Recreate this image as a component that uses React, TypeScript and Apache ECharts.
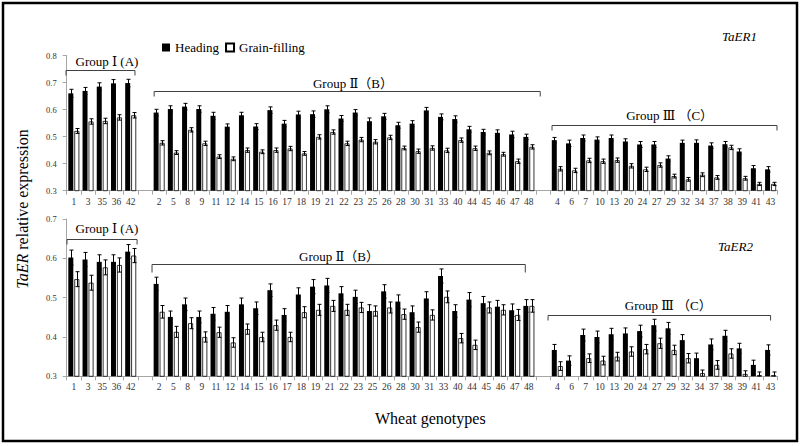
import React, { useEffect, useRef } from 'react';
import * as echarts from 'echarts';

// ---- categories (wheat genotypes) ----
const groupA = ['1', '3', '35', '36', '42'];
const groupB = ['2', '5', '8', '9', '11', '12', '14', '15', '16', '17', '18', '19', '21', '22', '23', '25', '26', '28', '30', '31', '33', '40', '44', '45', '46', '47', '48'];
const groupC = ['4', '6', '7', '10', '13', '20', '24', '27', '29', '32', '34', '37', '38', '39', '41', '43'];

const seriesNames = ['Heading', 'Grain-filling'];
const groupLabels = ['Group Ⅰ (A)', 'Group Ⅱ（B）', 'Group Ⅲ （C）'];
const panelTitles = ['TaER1', 'TaER2'];
const xAxisTitle = 'Wheat genotypes';
const yAxisTitleItalic = 'TaER';
const yAxisTitleRest = ' relative expression';
const yRange1 = [0.3, 0.8];
const yRange2 = [0.3, 0.7];

// ---- TaER1 ----
const er1Heading = [
  0.66, 0.669, 0.685, 0.697, 0.698,
  0.589, 0.602, 0.611, 0.602, 0.577, 0.537, 0.579, 0.537, 0.598, 0.548, 0.582, 0.583, 0.601, 0.567, 0.589, 0.557, 0.575, 0.542, 0.548, 0.597, 0.573, 0.565, 0.527, 0.517, 0.514, 0.508, 0.499,
  0.487, 0.475, 0.495, 0.489, 0.495, 0.482, 0.471, 0.471, 0.419, 0.477, 0.477, 0.467, 0.472, 0.445, 0.383, 0.379,
];
const er1HeadingErr = [
  0.015, 0.013, 0.014, 0.014, 0.014,
  0.012, 0.012, 0.012, 0.012, 0.013, 0.01, 0.011, 0.011, 0.012, 0.012, 0.012, 0.012, 0.013, 0.011, 0.011, 0.012, 0.011, 0.011, 0.011, 0.011, 0.011, 0.012, 0.011, 0.01, 0.011, 0.012, 0.01,
  0.01, 0.012, 0.011, 0.01, 0.011, 0.01, 0.011, 0.011, 0.01, 0.01, 0.011, 0.01, 0.01, 0.01, 0.01, 0.01,
];
const er1Grain = [
  0.521, 0.556, 0.558, 0.571, 0.579,
  0.477, 0.441, 0.525, 0.475, 0.426, 0.418, 0.45, 0.444, 0.45, 0.456, 0.438, 0.499, 0.517, 0.475, 0.489, 0.481, 0.497, 0.458, 0.446, 0.458, 0.449, 0.487, 0.457, 0.44, 0.435, 0.409, 0.462,
  0.381, 0.375, 0.412, 0.409, 0.413, 0.392, 0.379, 0.395, 0.354, 0.342, 0.359, 0.349, 0.46, 0.346, 0.325, 0.325,
];
const er1GrainErr = [
  0.009, 0.01, 0.01, 0.01, 0.01,
  0.008, 0.007, 0.008, 0.008, 0.007, 0.007, 0.008, 0.007, 0.008, 0.008, 0.007, 0.008, 0.008, 0.008, 0.008, 0.008, 0.008, 0.007, 0.008, 0.008, 0.008, 0.008, 0.008, 0.007, 0.007, 0.008, 0.008,
  0.008, 0.008, 0.008, 0.008, 0.008, 0.008, 0.008, 0.008, 0.007, 0.007, 0.007, 0.007, 0.008, 0.007, 0.006, 0.006,
];

// ---- TaER2 ----
const er2Heading = [
  0.602, 0.597, 0.591, 0.591, 0.617,
  0.535, 0.451, 0.483, 0.451, 0.459, 0.464, 0.483, 0.473, 0.519, 0.456, 0.508, 0.528, 0.531, 0.511, 0.502, 0.466, 0.516, 0.49, 0.463, 0.498, 0.555, 0.466, 0.495, 0.486, 0.477, 0.468, 0.479,
  0.367, 0.34, 0.405, 0.4, 0.407, 0.409, 0.415, 0.43, 0.422, 0.392, 0.346, 0.381, 0.403, 0.371, 0.329, 0.367,
];
const er2HeadingErr = [
  0.019, 0.018, 0.018, 0.018, 0.018,
  0.017, 0.015, 0.016, 0.015, 0.016, 0.016, 0.016, 0.016, 0.016, 0.016, 0.017, 0.018, 0.018, 0.017, 0.017, 0.016, 0.017, 0.017, 0.016, 0.017, 0.018, 0.016, 0.018, 0.017, 0.016, 0.016, 0.016,
  0.014, 0.012, 0.015, 0.015, 0.015, 0.014, 0.015, 0.015, 0.015, 0.014, 0.013, 0.014, 0.014, 0.013, 0.012, 0.013,
];
const er2Grain = [
  0.547, 0.538, 0.577, 0.583, 0.607,
  0.464, 0.413, 0.435, 0.4, 0.412, 0.386, 0.42, 0.4, 0.43, 0.4, 0.463, 0.469, 0.479, 0.469, 0.475, 0.466, 0.475, 0.458, 0.425, 0.456, 0.502, 0.397, 0.38, 0.475, 0.469, 0.456, 0.479,
  0.326, 0.3, 0.346, 0.34, 0.35, 0.363, 0.369, 0.384, 0.367, 0.346, 0.308, 0.329, 0.358, 0.306, 0.303, 0.303,
];
const er2GrainErr = [
  0.019, 0.019, 0.019, 0.018, 0.018,
  0.016, 0.014, 0.014, 0.013, 0.013, 0.012, 0.013, 0.012, 0.013, 0.012, 0.014, 0.014, 0.014, 0.014, 0.013, 0.013, 0.014, 0.013, 0.013, 0.013, 0.015, 0.012, 0.012, 0.014, 0.013, 0.014, 0.016,
  0.011, 0, 0.011, 0.011, 0.011, 0.012, 0.012, 0.013, 0.012, 0.012, 0.008, 0.011, 0.012, 0.008, 0.008, 0.008,
];

// ---- layout helpers (not data) ----
const FONT = "'Liberation Serif', 'Times New Roman', serif";
const GROUP_FONT = "'Liberation Serif', 'DejaVu Serif', 'Noto Sans CJK SC', serif";
const categories = [...groupA, ' ', ...groupB, '  ', ...groupC];
const pos = (k: number) => (k < groupA.length ? k : k < groupA.length + groupB.length ? k + 1 : k + 2);
const toAxis = (vals: number[]) => {
  const out: (number | null)[] = categories.map(() => null);
  vals.forEach((v, k) => { out[pos(k)] = v; });
  return out;
};
const errData = (vals: number[], errs: number[]) => vals.map((v, k) => [pos(k), v, errs[k]]);

// bracket annotations: [startIdx, yValue, startFrac, endIdx, endFrac, textIdx, textFrac, textDy, tick]
const brackets1 = [
  [0, 0.748, -0.55, 4, 0.3, 2, 0.33, -9, 5],
  [6, 0.667, -0.35, 32, 0.8, 19, 0.63, -8, 5],
  [34, 0.544, -0.37, 49, 0.45, 42, -0.1, -10, 5],
];
const brackets2 = [
  [0, 0.648, -0.48, 4, 0.45, 2, 0.33, -11, 5],
  [6, 0.5855, -0.5, 32, -0.25, 19, -0.35, -8, 8],
  [34, 0.456, -0.65, 49, 0, 42, -0.2, -10, 5],
];

const BAR_W = 5;
const OFFSET = 3;

const errorRender = (offset: number) => (params: any, api: any) => {
  const idx = api.value(0);
  const v = api.value(1);
  const e = api.value(2);
  if (!e) return null;
  const top = api.coord([idx, v + e]);
  const bot = api.coord([idx, v - e]);
  const x = Math.round(top[0] + offset) + 0.5;
  const cap = 2;
  const st = { stroke: '#000', lineWidth: 1 };
  return {
    type: 'group',
    children: [
      { type: 'line', shape: { x1: x, y1: top[1], x2: x, y2: bot[1] }, style: st },
      { type: 'line', shape: { x1: x - cap, y1: top[1], x2: x + cap, y2: top[1] }, style: st },
      { type: 'line', shape: { x1: x - cap, y1: bot[1], x2: x + cap, y2: bot[1] }, style: st },
    ],
  };
};

const bracketRender = (params: any, api: any) => {
  const bw = api.size([1, 0])[0];
  const yv = api.value(1);
  const p0 = api.coord([api.value(0), yv]);
  const p1 = api.coord([api.value(3), yv]);
  const pt = api.coord([api.value(5), yv]);
  const y = Math.round(p0[1]) + 0.5;
  const x0 = p0[0] + api.value(2) * bw;
  const x1 = p1[0] + api.value(4) * bw;
  const xt = pt[0] + api.value(6) * bw;
  const tick = api.value(8);
  return {
    type: 'group',
    children: [
      {
        type: 'polyline',
        shape: { points: [[x0, y + tick], [x0, y], [x1, y], [x1, y + tick]] },
        style: { stroke: '#404040', lineWidth: 1, fill: 'none' },
      },
      {
        type: 'text',
        x: xt,
        y: y + api.value(7),
        style: {
          text: groupLabels[params.dataIndex],
          fill: '#000',
          fontSize: 13,
          fontFamily: GROUP_FONT,
          align: 'center',
          verticalAlign: 'middle',
        },
      },
    ],
  };
};

const axisColor = '#a6a6a6';

const makeXAxis = (gridIndex: number) => ({
  type: 'category',
  gridIndex,
  data: categories,
  axisLine: { show: true, lineStyle: { color: axisColor, width: 1 } },
  axisTick: { show: true, length: 4, lineStyle: { color: axisColor } },
  axisLabel: { interval: 0, fontSize: 9.5, fontFamily: FONT, color: '#333', margin: 6 },
  splitLine: { show: false },
});

const makeYAxis = (gridIndex: number, range: number[]) => ({
  type: 'value',
  gridIndex,
  min: range[0],
  max: range[1],
  interval: 0.1,
  axisLine: { show: true, lineStyle: { color: axisColor, width: 1 } },
  axisTick: { show: true, length: 4, lineStyle: { color: axisColor } },
  axisLabel: { fontSize: 8.5, fontFamily: FONT, color: '#333', margin: 10, formatter: (v: number) => v.toFixed(1) },
  splitLine: { show: false },
});

const panelSeries = (i: number, heading: number[], hErr: number[], grain: number[], gErr: number[], br: number[][]) => [
  {
    name: seriesNames[0],
    type: 'bar',
    xAxisIndex: i,
    yAxisIndex: i,
    data: toAxis(heading),
    barWidth: BAR_W,
    barGap: '20%',
    itemStyle: { color: '#000' },
  },
  {
    name: seriesNames[1],
    type: 'bar',
    xAxisIndex: i,
    yAxisIndex: i,
    data: toAxis(grain),
    barWidth: BAR_W,
    barGap: '20%',
    itemStyle: { color: '#fff', borderColor: '#000', borderWidth: 0.8 },
  },
  {
    type: 'custom',
    xAxisIndex: i,
    yAxisIndex: i,
    data: errData(heading, hErr),
    encode: { x: 0, y: 1 },
    renderItem: errorRender(-OFFSET),
    clip: true,
    z: 5,
  },
  {
    type: 'custom',
    xAxisIndex: i,
    yAxisIndex: i,
    data: errData(grain, gErr),
    encode: { x: 0, y: 1 },
    renderItem: errorRender(OFFSET),
    clip: true,
    z: 5,
  },
  {
    type: 'custom',
    xAxisIndex: i,
    yAxisIndex: i,
    data: br,
    encode: { x: 0, y: 1 },
    renderItem: bracketRender,
    clip: false,
    silent: true,
    z: 6,
  },
];

export default function App() {
  const ref = useRef<HTMLDivElement>(null);
  useEffect(() => {
    const chart = echarts.init(ref.current!, undefined, { renderer: 'svg' });
    const option: any = {
      animation: false,
      backgroundColor: '#fff',
      title: [
        { text: panelTitles[0], left: 717, top: 25, textStyle: { fontStyle: 'italic', fontWeight: 'normal', fontFamily: FONT, fontSize: 13, color: '#000' } },
        { text: panelTitles[1], left: 713, top: 235, textStyle: { fontStyle: 'italic', fontWeight: 'normal', fontFamily: FONT, fontSize: 13, color: '#000' } },
        { text: xAxisTitle, left: 370, top: 405, textStyle: { fontWeight: 'normal', fontFamily: FONT, fontSize: 16, color: '#000' } },
      ],
      legend: {
        data: seriesNames,
        left: 157,
        top: 36,
        itemWidth: 8,
        itemHeight: 8,
        itemGap: 6,
        icon: 'rect',
        textStyle: { fontFamily: FONT, fontSize: 13, color: '#000' },
      },
      grid: [
        { left: 66.7, right: 22.3, top: 55.5, height: 135.2 },
        { left: 66.7, right: 22.3, top: 219, height: 157.3 },
      ],
      xAxis: [makeXAxis(0), makeXAxis(1)],
      yAxis: [makeYAxis(0, yRange1), makeYAxis(1, yRange2)],
      series: [
        ...panelSeries(0, er1Heading, er1HeadingErr, er1Grain, er1GrainErr, brackets1),
        ...panelSeries(1, er2Heading, er2HeadingErr, er2Grain, er2GrainErr, brackets2),
      ],
      graphic: [
        {
          type: 'rect',
          shape: { x: 3, y: 3, width: 794, height: 438 },
          style: { fill: 'none', stroke: '#000', lineWidth: 2.5 },
          silent: true,
        },
        {
          type: 'text',
          x: 22,
          y: 209,
          rotation: Math.PI / 2,
          style: {
            text: '{i|' + yAxisTitleItalic + '}' + yAxisTitleRest,
            fontSize: 16,
            fontFamily: FONT,
            fill: '#000',
            align: 'center',
            verticalAlign: 'middle',
            rich: { i: { fontStyle: 'italic', fontSize: 16, fontFamily: FONT, fill: '#000' } },
          },
          silent: true,
        },
      ],
    };
    chart.setOption(option);
    return () => chart.dispose();
  }, []);
  return <div ref={ref} style={{ position: 'fixed', left: 0, top: 0, width: 800, height: 446, background: '#fff' }} />;
}
